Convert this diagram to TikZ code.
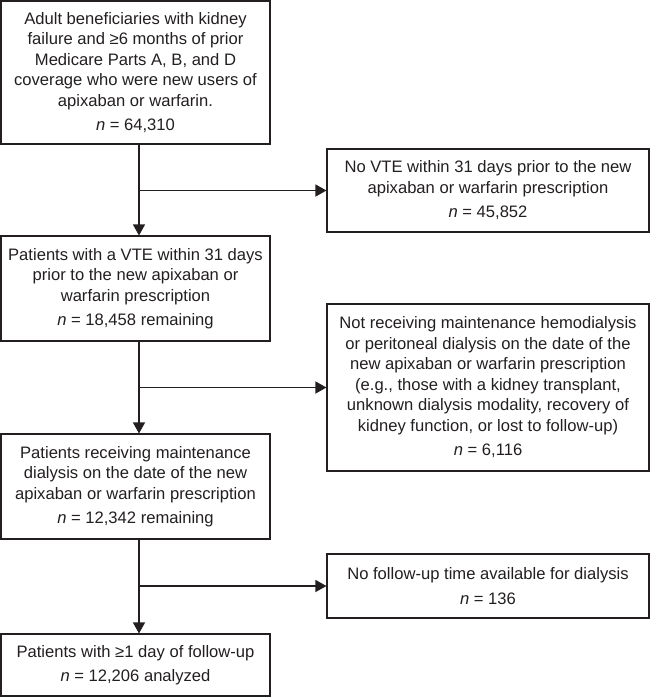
\documentclass[tikz,border=0pt]{standalone}
\usepackage{fontspec}
\setmainfont{Liberation Sans}
\usetikzlibrary{arrows.meta,calc}
\definecolor{ink}{HTML}{231F20}
\begin{document}
\begin{tikzpicture}[x=1pt,y=-1pt,
  box/.style={draw=ink, line width=1.1pt, inner sep=0pt, align=center, text=ink,
    font=\fontsize{16.6}{20.5}\selectfont},
  flow/.style={draw=ink, line width=1.3pt, -{Triangle[length=11pt,width=12pt]}},
  link/.style={draw=ink, line width=1.3pt}]
\useasboundingbox (0,0) rectangle (651,697);
\node[box, minimum width=269pt, minimum height=143pt] (b1) at (135.5,72.5)
  {Adult beneficiaries with kidney\\failure and ≥6 months of prior\\Medicare Parts A, B, and D\\coverage who were new users of\\apixaban or warfarin.\\[4pt]\textit{n} = 64,310};
\node[box, minimum width=322pt, minimum height=83pt] (b2) at (488,190.5)
  {No VTE within 31 days prior to the new\\apixaban or warfarin prescription\\[4pt]\textit{n} = 45,852};
\node[box, minimum width=269pt, minimum height=105pt] (b3) at (135.5,288.5)
  {Patients with a VTE within 31 days\\prior to the new apixaban or\\warfarin prescription\\[4pt]\textit{n} = 18,458 remaining};
\node[box, minimum width=322pt, minimum height=167pt] (b4) at (488,387.5)
  {Not receiving maintenance hemodialysis\\or peritoneal dialysis on the date of the\\new apixaban or warfarin prescription\\(e.g., those with a kidney transplant,\\unknown dialysis modality, recovery of\\kidney function, or lost to follow-up)\\[4pt]\textit{n} = 6,116};
\node[box, minimum width=269pt, minimum height=105pt] (b5) at (135.5,486.5)
  {Patients receiving maintenance\\dialysis on the date of the new\\apixaban or warfarin prescription\\[4pt]\textit{n} = 12,342 remaining};
\node[box, minimum width=322pt, minimum height=64pt] (b6) at (488,586)
  {No follow-up time available for dialysis\\[4pt]\textit{n} = 136};
\node[box, minimum width=269pt, minimum height=62pt] (b7) at (135.5,665)
  {Patients with ≥1 day of follow-up\\[4pt]\textit{n} = 12,206 analyzed};
\coordinate (vx) at (139,0);
\draw[flow] (b1.south -| vx) -- (b3.north -| vx);
\draw[flow] (b2.west -| vx) -- (b2.west);
\draw[flow] (b3.south -| vx) -- (b5.north -| vx);
\draw[flow] (b4.west -| vx) -- (b4.west);
\draw[flow] (b5.south -| vx) -- (b7.north -| vx);
\draw[flow] (b6.west -| vx) -- (b6.west);
\end{tikzpicture}
\end{document}
